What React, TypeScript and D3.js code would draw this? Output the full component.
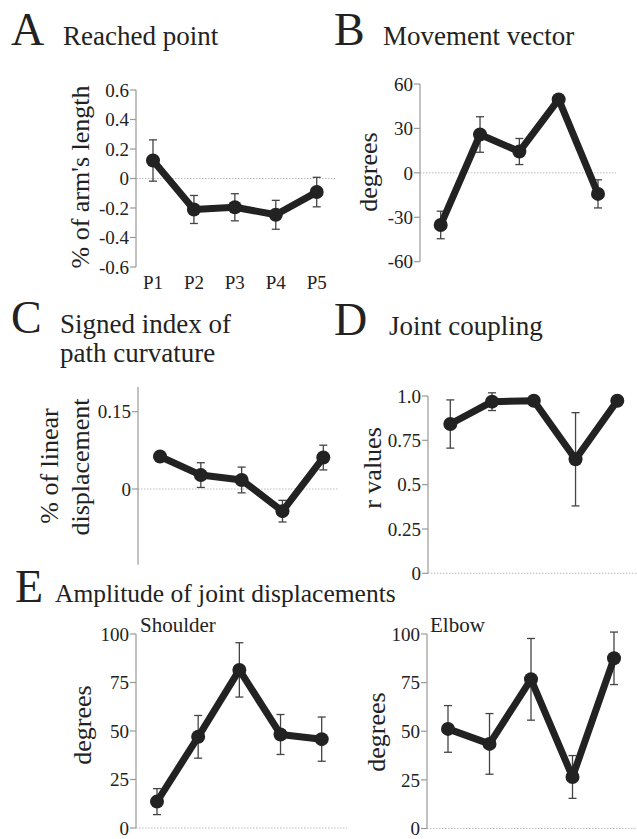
import React from "react";
import * as d3 from "d3";

const positions = ["P1", "P2", "P3", "P4", "P5"];

const reachedMean = [0.122, -0.21, -0.195, -0.246, -0.092];
const reachedErr = [0.14, 0.095, 0.092, 0.098, 0.1];
const reachedTicks = [0.6, 0.4, 0.2, 0, -0.2, -0.4, -0.6];

const vectorMean = [-35.2, 25.9, 14.4, 49.6, -14.2];
const vectorErr = [9.3, 12, 8.8, 2, 9.5];
const vectorTicks = [60, 30, 0, -30, -60];

const curvMean = [0.063, 0.027, 0.0175, -0.043, 0.061];
const curvErr = [0.008, 0.024, 0.025, 0.021, 0.024];
const curvTicks = [0.15, 0];

const couplingMean = [0.842, 0.968, 0.973, 0.643, 0.973];
const couplingErr = [0.136, 0.05, 0.01, 0.263, 0.008];
const couplingTicks = [1.0, 0.75, 0.5, 0.25, 0];
const couplingTickLabels = ["1.0", "0.75", "0.5", "0.25", "0"];

const shoulderMean = [13.6, 47, 81.5, 48.2, 45.8];
const shoulderErr = [6.7, 11, 14, 10.3, 11.4];
const elbowMean = [51.2, 43.5, 76.7, 26.5, 87.5];
const elbowErr = [12, 15.6, 21, 11, 13.5];
const ampTicks = [100, 75, 50, 25, 0];

const FONT = "Liberation Serif";
const INK = "#222";

type PanelProps = {
  values: number[];
  errors: number[];
  ticks: number[];
  tickLabels?: string[];
  domain: [number, number];
  yRange: [number, number];
  axisExtent: [number, number];
  axisX: number;
  xRange: [number, number];
  zeroEnd: number;
  showXLabels?: boolean;
  xLabelY?: number;
};

function Panel(p: PanelProps) {
  const y = d3.scaleLinear().domain(p.domain).range(p.yRange);
  const x = d3.scalePoint<string>().domain(positions).range(p.xRange);
  const line = d3
    .line<number>()
    .x((_, i) => x(positions[i]) as number)
    .y((v) => y(v));
  const y0 = y(0);
  return (
    <g>
      <line x1={p.axisX} x2={p.zeroEnd} y1={y0} y2={y0} stroke="#bbb" strokeWidth={1} strokeDasharray="1.5,1.5" />
      <line x1={p.axisX} x2={p.axisX} y1={y(p.axisExtent[0])} y2={y(p.axisExtent[1])} stroke="#999" strokeWidth={1.2} />
      {p.ticks.map((t, i) => (
        <g key={i}>
          <line x1={p.axisX - 6} x2={p.axisX} y1={y(t)} y2={y(t)} stroke="#999" strokeWidth={1.2} />
          <text x={p.axisX - 7} y={y(t)} dy="0.35em" textAnchor="end" fontFamily={FONT} fontSize={19} fill={INK}>
            {p.tickLabels ? p.tickLabels[i] : String(t)}
          </text>
        </g>
      ))}
      {p.values.map((v, i) => {
        const cx = x(positions[i]) as number;
        const e = p.errors[i];
        return (
          <g key={i} stroke="#444" strokeWidth={1.3}>
            <line x1={cx} x2={cx} y1={y(v - e)} y2={y(v + e)} />
            <line x1={cx - 4} x2={cx + 4} y1={y(v - e)} y2={y(v - e)} />
            <line x1={cx - 4} x2={cx + 4} y1={y(v + e)} y2={y(v + e)} />
          </g>
        );
      })}
      <path d={line(p.values) || ""} fill="none" stroke={INK} strokeWidth={7} strokeLinejoin="round" />
      {p.values.map((v, i) => (
        <circle key={i} cx={x(positions[i]) as number} cy={y(v)} r={7} fill={INK} />
      ))}
      {p.showXLabels &&
        positions.map((s) => (
          <text key={s} x={x(s) as number} y={p.xLabelY} textAnchor="middle" fontFamily={FONT} fontSize={19} fill={INK}>
            {s}
          </text>
        ))}
    </g>
  );
}

function Title({ letter, lx, tx, y, lines, size = 27 }: { letter: string; lx: number; tx: number; y: number; lines: string[]; size?: number }) {
  return (
    <g fill={INK}>
      <text x={lx} y={y} fontFamily={FONT} fontSize={46}>{letter}</text>
      {lines.map((l, i) => (
        <text key={i} x={tx} y={y + i * 29} fontFamily={FONT} fontSize={size}>{l}</text>
      ))}
    </g>
  );
}

function YLabel({ x, y, text, size = 26 }: { x: number; y: number; text: string; size?: number }) {
  return (
    <text
      transform={`translate(${x},${y}) rotate(-90)`}
      textAnchor="middle"
      dy="0.35em"
      fontFamily={FONT}
      fontSize={size}
      fill={INK}
    >
      {text}
    </text>
  );
}

export default function App() {
  return (
    <svg width={637} height={839} style={{ position: "absolute", left: 0, top: 0, background: "#fff" }}>
      <rect width={637} height={839} fill="#fff" />
      {/* A */}
      <Title letter="A" lx={11} tx={63} y={45} lines={["Reached point"]} />
      <YLabel x={80} y={177} text="% of arm's length" />
      <Panel
        values={reachedMean}
        errors={reachedErr}
        ticks={reachedTicks}
        tickLabels={reachedTicks.map((t) => (t === 0 ? "0" : t.toFixed(1)))}
        domain={[-0.6, 0.6]}
        yRange={[267, 90]}
        axisExtent={[-0.6, 0.6]}
        axisX={136}
        xRange={[153, 316.7]}
        zeroEnd={335}
        showXLabels
        xLabelY={289}
      />
      {/* B */}
      <Title letter="B" lx={334} tx={383} y={45} lines={["Movement vector"]} />
      <YLabel x={368} y={172} text="degrees" />
      <Panel
        values={vectorMean}
        errors={vectorErr}
        ticks={vectorTicks}
        domain={[-60, 60]}
        yRange={[261.7, 84]}
        axisExtent={[-60, 60]}
        axisX={420}
        xRange={[440.7, 598]}
        zeroEnd={616}
      />
      {/* C */}
      <Title letter="C" lx={11} tx={60} y={333} lines={["Signed index of", "path curvature"]} />
      <YLabel x={49} y={466} text="% of linear" />
      <YLabel x={80} y={467} text="displacement" />
      <Panel
        values={curvMean}
        errors={curvErr}
        ticks={curvTicks}
        domain={[0, 0.15]}
        yRange={[489, 411.7]}
        axisExtent={[-0.147, 0.198]}
        axisX={138}
        xRange={[160, 323.3]}
        zeroEnd={338}
      />
      {/* D */}
      <Title letter="D" lx={334} tx={389} y={335} lines={["Joint coupling"]} />
      <YLabel x={372} y={468} text="r values" />
      <Panel
        values={couplingMean}
        errors={couplingErr}
        ticks={couplingTicks}
        tickLabels={couplingTickLabels}
        domain={[0, 1]}
        yRange={[573.3, 396]}
        axisExtent={[0, 1]}
        axisX={428}
        xRange={[450.3, 617.3]}
        zeroEnd={637}
      />
      {/* E */}
      <Title letter="E" lx={15} tx={55} y={602} size={25.5} lines={["Amplitude of joint displacements"]} />
      <text x={140} y={632} fontFamily={FONT} fontSize={21} fill={INK}>Shoulder</text>
      <YLabel x={82} y={725} text="degrees" />
      <Panel
        values={shoulderMean}
        errors={shoulderErr}
        ticks={ampTicks}
        domain={[0, 100]}
        yRange={[828, 634]}
        axisExtent={[0, 100]}
        axisX={136}
        xRange={[157, 321.7]}
        zeroEnd={347}
      />
      <text x={430} y={632} fontFamily={FONT} fontSize={21} fill={INK}>Elbow</text>
      <YLabel x={376} y={732} text="degrees" />
      <Panel
        values={elbowMean}
        errors={elbowErr}
        ticks={ampTicks}
        domain={[0, 100]}
        yRange={[828.5, 634]}
        axisExtent={[0, 100]}
        axisX={427}
        xRange={[448, 614]}
        zeroEnd={637}
      />
    </svg>
  );
}
